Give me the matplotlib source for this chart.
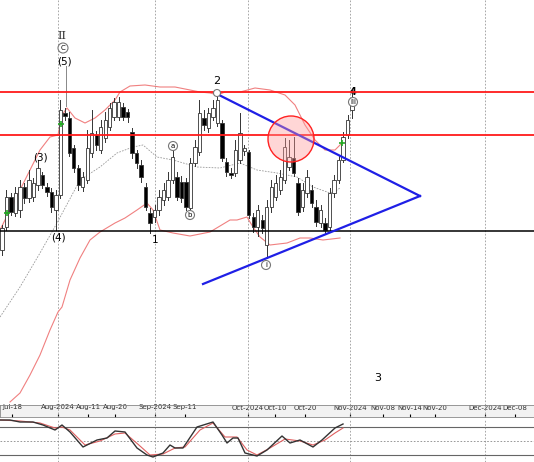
import numpy as np
import matplotlib.pyplot as plt
from matplotlib.patches import Circle, Rectangle

# candle readings in chart units (y grows downward, as on the screen)
body_top = [228,197,197,193,187,187,180,183,168,175,187,192,195,110,113,118,148,168,177,148,
            133,135,127,120,108,102,102,107,112,132,153,165,187,213,210,197,190,180,157,177,
            182,182,163,147,113,118,113,108,100,123,162,173,150,133,148,152,217,210,220,207,
            187,183,177,147,157,158,183,190,177,190,207,210,223,193,180,160,137,120,100]
body_bot = [250,227,212,213,210,198,198,197,185,185,192,207,210,195,116,153,168,185,187,180,
            153,145,150,138,127,117,117,117,117,153,163,177,207,223,217,210,200,197,180,197,
            198,207,208,163,152,125,128,117,123,158,172,175,173,160,151,215,227,227,228,245,
            207,197,190,180,167,173,212,207,193,203,222,223,230,227,193,180,160,135,110]
wick_hi = [225,190,193,187,180,183,170,178,160,172,183,188,190,100,108,112,145,165,172,130,
           110,131,120,112,103,98,97,103,109,128,150,160,183,208,205,190,183,172,147,172,
           176,178,158,140,100,110,108,100,93,120,158,168,140,113,145,150,213,205,215,200,
           180,175,170,138,140,137,178,183,170,185,200,205,218,188,175,155,132,115,90]
wick_lo = [255,230,215,216,217,203,202,201,190,188,196,212,230,198,120,156,172,190,191,183,
           157,150,153,142,130,120,120,120,122,158,168,182,210,233,222,215,205,200,183,200,
           202,210,210,166,155,130,132,120,126,161,176,178,176,163,155,218,232,236,233,258,
           212,200,194,183,170,176,215,211,197,207,226,227,233,230,197,183,162,138,118]
up = [1,1,0,1,1,0,1,1,1,0,0,0,1,1,0,0,0,0,1,1,1,0,1,1,1,1,1,0,0,0,0,0,0,0,1,1,1,1,1,0,
      0,0,1,1,1,0,1,1,1,0,0,0,1,1,1,0,0,1,0,1,1,1,1,1,1,0,0,1,1,0,0,1,0,1,1,1,1,1,1]

# bollinger bands and middle average (x, y)
upper_x = [0,20,40,50,58,62,67,75,85,95,105,115,120,130,145,160,175,190,200,210,218,225,240,255,270,285,295,305,315,325,335,345]
upper_y = [230,190,150,137,135,115,108,118,123,118,110,100,92,86,85,87,87,90,92,93,95,92,92,88,90,95,105,125,140,150,150,140]
lower_x = [10,20,30,40,50,58,62,70,80,90,100,115,125,137,147,153,160,173,190,210,230,237,247,253,260,270,287,300,310,323,340]
lower_y = [402,393,375,355,330,312,307,280,258,240,232,223,218,210,203,210,230,233,236,232,220,220,217,227,237,245,243,238,238,240,238]
sma_x = [0,20,40,57,80,100,117,133,143,157,173,197,220,240,257,277,297,313,330,337,340]
sma_y = [317,287,253,223,180,167,153,147,145,157,160,167,168,163,170,173,177,187,193,190,188]

# oscillator
osc_x = [0,10,20,33,43,55,62,70,83,97,107,115,125,137,147,153,163,170,175,183,197,213,222,227,233,238,245,257,267,282,290,300,313,322,335,343]
osc_k = [420,420,422,422,425,430,425,432,447,440,438,431,432,448,455,457,453,445,448,448,427,422,435,443,438,438,453,456,450,436,443,440,447,440,428,424]
sig_x = [0,20,40,55,62,70,85,100,115,125,140,150,163,175,185,200,213,225,237,247,257,270,285,300,313,325,335,343]
sig_y = [420,421,423,428,427,430,445,441,434,433,446,455,454,448,447,430,423,437,437,450,455,448,439,441,445,440,433,428]

tick_pos = [12,58,88,115,155,185,248,275,305,350,383,410,435,485,515]
tick_lbl = ['Jul-18','Aug-2024','Aug-11','Aug-20','Sep-2024','Sep-11','Oct-2024','Oct-10','Oct-20',
            'Nov-2024','Nov-08','Nov-14','Nov-20','Dec-2024','Dec-08']
month_lines = [58,155,248,350,485]

fig = plt.figure(figsize=(5.34, 4.62), dpi=100)
ax = fig.add_axes([0, 57/462, 1, 405/462])
ax.set_xlim(0, 534)
ax.set_ylim(405, 0)
ax.axis('off')

for xv in month_lines:
    ax.axvline(xv, color='#999999', lw=0.6, ls=(0, (2, 2)))

n = len(body_top)
xs = 2 + np.arange(n) * 350 / (n - 1)
for i in range(n):
    ax.plot([xs[i], xs[i]], [wick_lo[i], wick_hi[i]], color='#333333', lw=0.7, zorder=3)
    h = max(body_bot[i] - body_top[i], 1.2)
    ax.add_patch(Rectangle((xs[i] - 1.7, body_top[i]), 3.4, h, facecolor='white' if up[i] else 'black',
                           edgecolor='#333333', lw=0.6, zorder=4))

ax.plot(upper_x, upper_y, color='#f08080', lw=0.8, zorder=2)
ax.plot(lower_x, lower_y, color='#f08080', lw=0.8, zorder=2)
ax.plot(sma_x, sma_y, color='#999999', lw=0.6, ls=(0, (2, 1.5)), zorder=2)

ax.axhline(92, color='#ff1a1a', lw=1.3, zorder=5)
ax.axhline(135, color='#ff1a1a', lw=1.3, zorder=5)
ax.axhline(231, color='black', lw=1.1, zorder=5)

ax.plot([215, 420], [93, 196], color='#1f1fe6', lw=1.6, zorder=6)
ax.plot([203, 420], [284, 196], color='#1f1fe6', lw=1.6, zorder=6)
ax.add_patch(Circle((291, 139), 23, facecolor='#ff9999', alpha=0.4, lw=0, zorder=6))
ax.add_patch(Circle((291, 139), 23, facecolor='none', edgecolor='#ff2222', lw=1.0, zorder=6))

# wave labels
def circ(x, y, s, r=4.5):
    ax.add_patch(Circle((x, y), r, facecolor='white', edgecolor='#777777', lw=0.8, zorder=7))
    ax.text(x, y + 0.3, s, ha='center', va='center', fontsize=5, zorder=8)

ax.text(62, 36, 'II', ha='center', va='center', fontsize=8, family='DejaVu Serif', color='#333333')
circ(63, 48, 'C', 5)
ax.text(64, 61, '(5)', ha='center', va='center', fontsize=7.5)
ax.plot([66, 66], [66, 106], color='#888888', lw=0.7)
ax.text(40, 157, '(3)', ha='center', va='center', fontsize=7.5)
ax.text(58, 238, '(4)', ha='center', va='center', fontsize=7.5)
ax.text(155, 240, '1', ha='center', va='center', fontsize=7.5)
circ(173, 146, 'a')
circ(190, 215, 'b')
ax.text(217, 81, '2', ha='center', va='center', fontsize=8)
circ(217, 93, '', 3.5)
circ(266, 265, 'i')
ax.text(353, 92, '4', ha='center', va='center', fontsize=7, fontweight='bold')
circ(353, 102, 'iii')
ax.text(378, 378, '3', ha='center', va='center', fontsize=8)
for gx, gy in [(7, 213), (61, 124), (342, 143)]:
    ax.plot(gx, gy, marker='+', color='#22aa22', ms=5, mew=1.2, zorder=8)

# date axis strip
tax = fig.add_axes([0, 45/462, 1, 12/462])
tax.set_xlim(0, 534)
tax.set_ylim(0, 1)
tax.set_facecolor('#f2f2f2')
for s in tax.spines.values():
    s.set_color('#888888')
    s.set_linewidth(0.6)
tax.set_xticks(tick_pos)
tax.set_xticklabels(tick_lbl, fontsize=5, color='#333333')
tax.tick_params(axis='x', pad=-9, length=2, direction='in')
tax.set_yticks([])
for xv in month_lines:
    tax.axvline(xv, color='#999999', lw=0.6, ls=(0, (2, 2)))

# oscillator panel
oax = fig.add_axes([0, 0, 1, 43/462])
oax.set_xlim(0, 534)
oax.set_ylim(462, 419)
oax.axis('off')
for xv in month_lines:
    oax.axvline(xv, color='#999999', lw=0.6, ls=(0, (2, 2)))
oax.axhline(427, color='#666666', lw=0.8)
oax.axhline(455, color='#666666', lw=0.8)
oax.axhline(441, color='#888888', lw=0.6, ls=(0, (2, 2)))
oax.plot(sig_x, sig_y, color='#e06060', lw=0.8)
oax.plot(osc_x, osc_k, color='#333333', lw=1.0)

fig.savefig('out.png', dpi=100)
